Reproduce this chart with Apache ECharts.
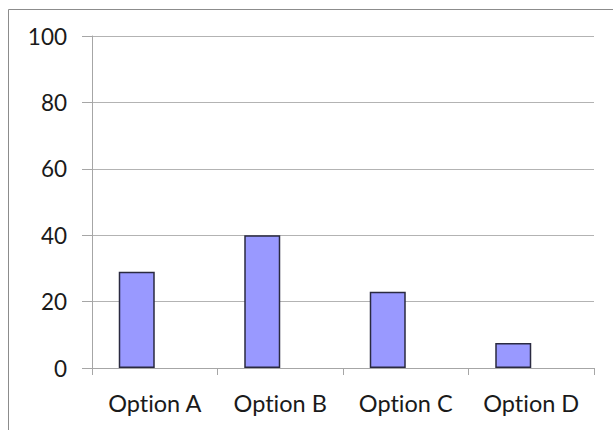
<!DOCTYPE html>
<html>
<head>
<meta charset="utf-8">
<script src="https://cdn.jsdelivr.net/npm/echarts@6/dist/echarts.min.js"></script>
<style>
html,body{margin:0;padding:0;background:#fff;}
#chart{width:613px;height:430px;font-variant-ligatures:none;}
#chart text{font-variant-ligatures:none;font-feature-settings:"liga" 0;}
</style>
</head>
<body>
<div id="chart"></div>
<script>
var categories = ['Option A', 'Option B', 'Option C', 'Option D'];
var series1Values = [29, 40, 23, 7.5];
var series2Values = [null, null, null, null];
var yTicks = [0, 20, 40, 60, 80, 100];

var chart = echarts.init(document.getElementById('chart'), null, {renderer: 'svg'});
var font = 'Lato';
chart.setOption({
  animation: false,
  graphic: [{
    type: 'rect',
    shape: {x: 8.5, y: 9.5, width: 700, height: 600},
    style: {fill: 'none', stroke: '#8c8c8c', lineWidth: 1},
    silent: true
  }],
  grid: {left: 92, right: 19, top: 36, bottom: 62, containLabel: false},
  xAxis: {
    type: 'category',
    data: categories,
    axisLine: {show: true, lineStyle: {color: '#a6a6a6', width: 1}},
    axisTick: {show: true, alignWithLabel: false, length: 7, lineStyle: {color: '#a6a6a6'}},
    axisLabel: {color: '#1a1a1a', fontFamily: font, fontSize: 23.5, margin: 23},
    splitLine: {show: false}
  },
  yAxis: {
    type: 'value',
    min: yTicks[0],
    max: yTicks[yTicks.length - 1],
    interval: yTicks[1] - yTicks[0],
    axisLine: {show: true, lineStyle: {color: '#a6a6a6', width: 1}},
    axisTick: {show: true, length: 10, lineStyle: {color: '#a6a6a6'}},
    axisLabel: {color: '#1a1a1a', fontFamily: font, fontSize: 22.5, margin: 25},
    splitLine: {show: true, lineStyle: {color: '#b3b3b3', width: 1}}
  },
  series: [{
    name: 'Series 1',
    type: 'bar',
    data: series1Values,
    barWidth: 36,
    barGap: '0%',
    itemStyle: {color: '#9999ff', borderColor: '#2a2a40', borderWidth: 1.5}
  }, {
    name: 'Series 2',
    type: 'bar',
    data: series2Values,
    barWidth: 36,
    barGap: '0%',
    itemStyle: {color: '#993366', borderColor: '#2a2a40', borderWidth: 1.5}
  }]
});
</script>
</body>
</html>
